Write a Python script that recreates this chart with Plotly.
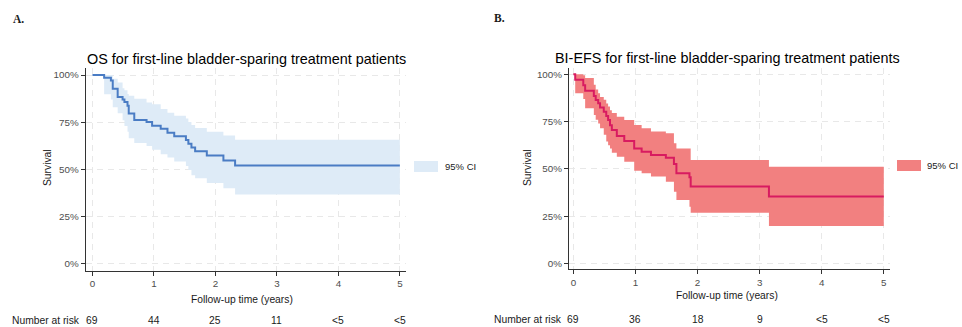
import plotly.graph_objects as go

# ---------------- data ----------------
os_time  = [0, 0.19, 0.30, 0.33, 0.41, 0.49, 0.52, 0.57, 0.59, 0.68, 0.88, 0.97, 1.11, 1.22, 1.33, 1.52, 1.56, 1.61, 1.67, 1.86, 2.13, 2.32, 5.0]
os_surv  = [100, 98.6, 97.1, 92.7, 88.4, 87.0, 85.7, 83.8, 79.7, 76.2, 75.2, 73.2, 71.5, 69.5, 67.6, 65.6, 63.6, 61.6, 59.7, 57.4, 54.8, 52.1, 52.1]
os_upper = [100, 100, 100, 98.0, 96.0, 93.0, 92.0, 90.0, 89.0, 87.5, 85.5, 84.5, 82.0, 80.0, 78.5, 77.0, 75.2, 73.5, 72.0, 70.0, 68.0, 65.7, 65.7]
os_lower = [100, 89.8, 87.0, 83.0, 79.8, 76.0, 73.0, 70.0, 66.5, 64.0, 62.5, 60.4, 58.1, 56.3, 54.2, 51.9, 49.8, 47.0, 45.4, 42.8, 40.1, 36.8, 36.8]

efs_time  = [0, 0.03, 0.16, 0.19, 0.33, 0.36, 0.40, 0.43, 0.49, 0.53, 0.56, 0.59, 0.62, 0.70, 0.82, 0.98, 1.10, 1.25, 1.49, 1.62, 1.66, 1.87, 1.89, 3.15, 5.0]
efs_surv  = [100, 97.1, 94.2, 91.3, 88.5, 86.4, 84.7, 82.5, 80.2, 78.0, 75.8, 73.0, 70.5, 67.4, 64.7, 60.8, 59.0, 57.3, 55.9, 52.6, 47.6, 45.5, 40.6, 35.3, 35.3]
efs_upper = [100, 100, 99.5, 98.0, 94.5, 92.0, 90.0, 88.0, 86.5, 84.5, 83.0, 81.0, 79.5, 77.5, 75.8, 73.2, 71.4, 69.7, 68.8, 63.5, 60.8, 60.8, 54.7, 51.1, 51.1]
efs_lower = [100, 90.0, 87.0, 82.0, 78.5, 76.0, 74.0, 71.5, 68.0, 64.5, 62.5, 60.8, 58.5, 56.4, 53.8, 49.0, 47.6, 45.9, 43.2, 37.9, 33.5, 30.0, 26.8, 19.8, 19.8]

risk_times = [0, 1, 2, 3, 4, 5]
os_risk  = ["69", "44", "25", "11", "<5", "<5"]
efs_risk = ["69", "36", "18", "9", "<5", "<5"]

x_ticks = [0, 1, 2, 3, 4, 5]
y_ticks = [0, 25, 50, 75, 100]
y_tick_labels = ["0%", "25%", "50%", "75%", "100%"]

title_a = "OS for first-line bladder-sparing treatment patients"
title_b = "BI-EFS for first-line bladder-sparing treatment patients"

# ---------------- styling ----------------
W, H = 962, 327
FONT = "Liberation Sans, Arial, sans-serif"
SERIF = "Liberation Serif, Times New Roman, serif"
blue_line, blue_band = "#4a7cc4", "#deebf7"
red_line, red_band = "#d81b60", "#f28080"

def py(pix):  # pixel y -> paper
    return (H - pix) / H

def px(pix):
    return pix / W

fig = go.Figure()

def add_panel(t, s, up, lo, xa, ya, lc, bc):
    fig.add_trace(go.Scatter(x=t, y=up, mode="lines", line=dict(width=0, shape="hv"),
                             showlegend=False, hoverinfo="skip", xaxis=xa, yaxis=ya))
    fig.add_trace(go.Scatter(x=t, y=lo, mode="lines", line=dict(width=0, shape="hv"),
                             fill="tonexty", fillcolor=bc, name="95% CI",
                             showlegend=False, hoverinfo="skip", xaxis=xa, yaxis=ya))
    fig.add_trace(go.Scatter(x=t, y=s, mode="lines", line=dict(width=2, color=lc, shape="hv"),
                             showlegend=False, xaxis=xa, yaxis=ya))

add_panel(os_time, os_surv, os_upper, os_lower, "x", "y", blue_line, blue_band)
add_panel(efs_time, efs_surv, efs_upper, efs_lower, "x2", "y2", red_line, red_band)

axis_common = dict(showgrid=True, gridcolor="#e8e8e8", griddash="6px,5px", gridwidth=1,
                   showline=True, linecolor="#333333", linewidth=1.2, ticks="outside",
                   ticklen=4, tickcolor="#333333", tickfont=dict(family=FONT, size=9.8, color="#4d4d4d"),
                   zeroline=False, fixedrange=True)

fig.update_layout(
    width=W, height=H, margin=dict(l=0, r=0, t=0, b=0),
    paper_bgcolor="white", plot_bgcolor="white", showlegend=False,
    font=dict(family=FONT, color="#000"),
    xaxis=dict(domain=[px(85.7), px(406)], range=[-0.11, 5.1], tickvals=x_ticks, anchor="y", **axis_common),
    yaxis=dict(domain=[py(270.6), py(68.4)], range=[-3.5, 103.5], tickvals=y_ticks, ticktext=y_tick_labels,
               anchor="x", **axis_common),
    xaxis2=dict(domain=[px(569), px(890)], range=[-0.07, 5.1], tickvals=x_ticks, anchor="y2", **axis_common),
    yaxis2=dict(domain=[py(269), py(67.7)], range=[-3, 103.5], tickvals=y_ticks, ticktext=y_tick_labels,
                anchor="x2", **axis_common),
)

ann = []
def text(x, y, s, size=10.3, xref="paper", color="#1a1a1a", family=FONT, xanchor="center", angle=0, bold=False):
    ann.append(dict(x=x, y=y, xref=xref, yref="paper", text=("<b>%s</b>" % s) if bold else s,
                    showarrow=False, xanchor=xanchor, yanchor="middle", textangle=angle,
                    font=dict(family=family, size=size, color=color)))

# panel labels
text(px(11), py(19), "A.", size=11.5, family=SERIF, xanchor="left", bold=True)
text(px(492), py(18), "B.", size=11.5, family=SERIF, xanchor="left", bold=True)
# titles
text(px(246), py(59), title_a, size=14.4, color="#000")
text(px(727), py(58), title_b, size=14.4, color="#000")
# y axis titles
text(px(47), py(168), "Survival", angle=-90)
text(px(527), py(168), "Survival", angle=-90)
# x axis titles
text(px(242), py(299), "Follow-up time (years)")
text(px(726.5), py(295), "Follow-up time (years)")
# number at risk
text(px(10), py(320.5), "Number at risk", xanchor="left")
text(px(492), py(319.5), "Number at risk", xanchor="left")
for tt, v in zip(risk_times, os_risk):
    text(tt, py(320.5), v, xref="x")
for tt, v in zip(risk_times, efs_risk):
    text(tt, py(319.5), v, xref="x2")
# legends
text(px(443), py(166.5), "95% CI", size=9.5, xanchor="left")
text(px(925), py(165.5), "95% CI", size=9.5, xanchor="left")

fig.update_layout(annotations=ann, shapes=[
    dict(type="rect", xref="paper", yref="paper", x0=px(414), x1=px(438), y0=py(172), y1=py(161),
         fillcolor=blue_band, line=dict(width=0)),
    dict(type="rect", xref="paper", yref="paper", x0=px(897), x1=px(921), y0=py(171), y1=py(160),
         fillcolor=red_band, line=dict(width=0)),
])

fig.write_html("out.html", config={"displayModeBar": False},
               post_script="document.body.style.margin='0';document.body.style.padding='0';")
